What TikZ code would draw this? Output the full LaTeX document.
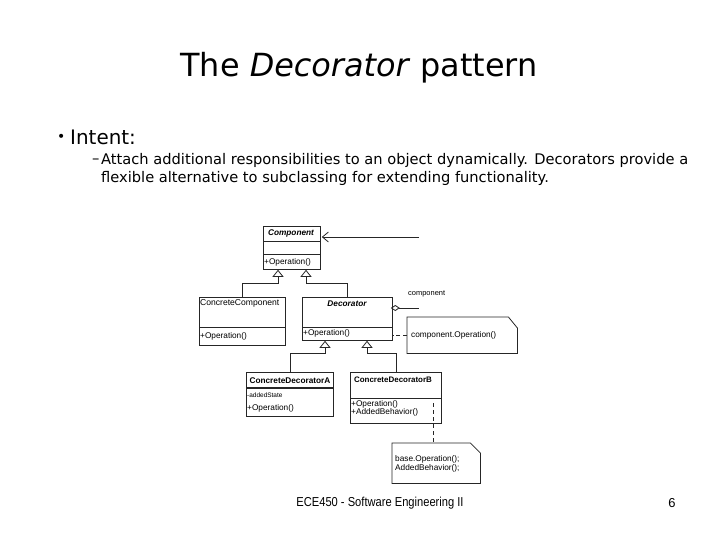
\documentclass[tikz,border=0pt]{standalone}
\usepackage{fontspec}
\usepackage{graphicx}
\setmainfont{DejaVu Sans}
\newfontfamily\arialf{Liberation Sans}
\usetikzlibrary{arrows.meta,calc}
\tikzset{
  cls/.style={draw=black!85, line width=0.8bp, inner sep=0pt, anchor=north west},
  notebox/.style={inner sep=0pt, anchor=north west},
  notest/.style={draw=black!85, line width=0.8bp},
  umltxt/.style={font=\arialf\fontsize{8.3}{8.3}\selectfont, inner sep=0pt, anchor=west},
  umlname/.style={font=\arialf\fontsize{8.3}{8.3}\selectfont, inner sep=0pt},
  gen/.style={draw=black!85, line width=0.8bp, -{Triangle[open,length=7bp,width=11bp]}},
  sep/.style={draw=black!85, line width=0.8bp},
  dashln/.style={draw=black!85, line width=0.8bp, dash pattern=on 4bp off 3bp},
  slidetxt/.style={inner sep=0pt, anchor=west},
}
\begin{document}
\begin{tikzpicture}[x=1bp,y=-1bp]
\fill[white] (0,0) rectangle (720,540);
\useasboundingbox (0,0) rectangle (720,540);

% title and text
\node[font=\fontsize{32}{32}\selectfont] (title) at (359,68) {The \textit{Decorator} pattern};
\node[slidetxt, font=\fontsize{14}{14}\selectfont] (bul) at (57,138) {•};
\node[slidetxt, font=\fontsize{20}{20}\selectfont] (intent) at (70,137) {Intent:};
\node[slidetxt, font=\fontsize{14.7}{14.7}\selectfont] (dash) at (92,161) {–};
\node[slidetxt, font=\fontsize{14.7}{14.7}\selectfont] (l1) at (101,160) {Attach additional responsibilities to an object dynamically. Decorators provide a};
\node[slidetxt, font=\fontsize{14.7}{14.7}\selectfont] (l2) at (101,178) {flexible alternative to subclassing for extending functionality.};
\node[font=\arialf\fontsize{13}{13}\selectfont, inner sep=0pt] (foot) at (380,503) {\scalebox{0.86}[1]{ECE450 - Software Engineering II}};
\node[font=\arialf\fontsize{13}{13}\selectfont, inner sep=0pt] (pg) at (672,503) {6};

% class boxes
\node[cls, minimum width=57bp, minimum height=43bp] (comp) at (263,226) {};
\node[cls, minimum width=86bp, minimum height=48bp] (cc) at (199,297) {};
\node[cls, minimum width=90bp, minimum height=43bp] (dec) at (302,297) {};
\node[cls, line width=1.3bp, minimum width=87bp, minimum height=44bp] (cda) at (246,372) {};
\node[cls, minimum width=91bp, minimum height=51bp] (cdb) at (350,372) {};

% compartments
\draw[sep] ($(comp.north west)+(0,15)$) -- ($(comp.north east)+(0,15)$);
\draw[sep] ($(comp.north west)+(0,28)$) -- ($(comp.north east)+(0,28)$);
\draw[sep] ($(cc.north west)+(0,30)$) -- ($(cc.north east)+(0,30)$);
\draw[sep] ($(dec.north west)+(0,30)$) -- ($(dec.north east)+(0,30)$);
\draw[sep, line width=1.3bp] ($(cda.north west)+(0,16)$) -- ($(cda.north east)+(0,16)$);
\draw[sep] ($(cdb.north west)+(0,26)$) -- ($(cdb.north east)+(0,26)$);

% class texts
\node[umlname, font=\arialf\fontsize{8.3}{8.3}\selectfont\bfseries\itshape] (compn) at (291,233) {Component};
\node[umltxt] (compop) at (264,262) {+Operation()};
\node[umltxt, font=\arialf\fontsize{8.6}{8.6}\selectfont] (ccn) at (200,303) {ConcreteComponent};
\node[umltxt] (ccop) at (200,336) {+Operation()};
\node[umlname, font=\arialf\fontsize{8.3}{8.3}\selectfont\bfseries\itshape] (decn) at (347,304) {Decorator};
\node[umltxt] (decop) at (303,333) {+Operation()};
\node[umlname, font=\arialf\fontsize{8.3}{8.3}\selectfont\bfseries] (cdan) at (290,381) {ConcreteDecoratorA};
\node[umltxt, font=\arialf\fontsize{6.5}{6.5}\selectfont] (cdast) at (247,395) {-addedState};
\node[umltxt] (cdaop) at (247,408) {+Operation()};
\node[umlname, font=\arialf\fontsize{8}{8}\selectfont\bfseries] (cdbn) at (393,380) {ConcreteDecoratorB};
\node[umltxt] (cdbop) at (351,404) {+Operation()};
\node[umltxt] (cdbab) at (351,412) {+AddedBehavior()};

% notes
\node[notebox, minimum width=110bp, minimum height=36bp] (n1) at (407,317) {};
\draw[notest] (n1.north west) -- ($(n1.north east)+(-9,0)$) -- ($(n1.north east)+(0,11)$) -- (n1.south east) -- (n1.south west) -- cycle;
\node[umltxt] (n1t) at (411,335) {component.Operation()};
\node[notebox, minimum width=88bp, minimum height=40bp] (n2) at (392,443) {};
\draw[notest] (n2.north west) -- ($(n2.north east)+(-10,0)$) -- ($(n2.north east)+(0,10)$) -- (n2.south east) -- (n2.south west) -- cycle;
\node[umltxt] (n2a) at (395,459) {base.Operation();};
\node[umltxt] (n2b) at (395,468) {AddedBehavior();};

% generalizations
\draw[gen] (cc.north) |- ($(comp.south west)+(15,14)$) -- ($(comp.south west)+(15,0)$);
\draw[gen] (dec.north) |- ($(comp.south west)+(43,14)$) -- ($(comp.south west)+(43,0)$);
\draw[gen] (cda.north) |- ($(dec.south west)+(23,13)$) -- ($(dec.south west)+(23,0)$);
\draw[gen] (cdb.north) |- ($(dec.south west)+(65,13)$) -- ($(dec.south west)+(65,0)$);

% association (component)
\coordinate (aggend) at (419,308);
\coordinate (navstart) at (419,237);
\draw[draw=black!85, line width=0.8bp, {Diamond[open,length=9bp,width=6bp]}-] ($(dec.north east)+(-2,11)$) -- (aggend);
\draw[draw=black!85, line width=0.8bp, -{Straight Barb[length=6bp,width=10bp]}] (navstart) -- ($(comp.north east)+(1,11)$);
\node[umltxt, font=\arialf\fontsize{7.5}{7.5}\selectfont] (role) at (408,294) {component};

% note links
\draw[dashln] (n1.west) -- (n1.west -| dec.east);
\coordinate (cdbd) at (433,403);
\draw[dashln] (cdbd) -- (cdbd |- n2.north);
\end{tikzpicture}
\end{document}
